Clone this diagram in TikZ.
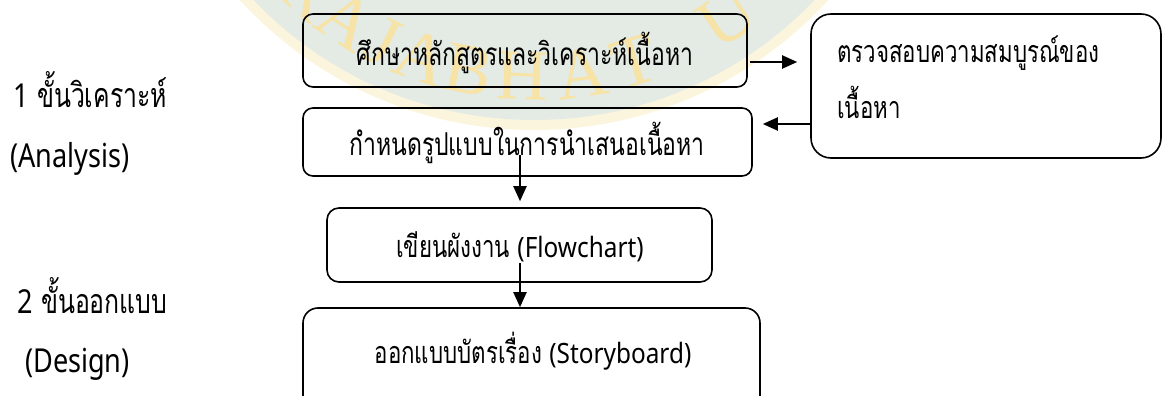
\documentclass[tikz,border=0pt]{standalone}
\usepackage{fontspec}
\setmainfont{Loma}[Script=Thai, FakeStretch=0.73]
\newfontfamily\lat{Noto Sans}[FakeStretch=0.87]
\newfontfamily\latL{Noto Sans}[FakeStretch=0.82]
\newfontfamily\wmfont{Liberation Serif}
\usetikzlibrary{arrows.meta}
\definecolor{wmgreen}{HTML}{E3EBE4}
\definecolor{wmring}{HTML}{FCF5DE}
\definecolor{wmletter}{HTML}{F7E3A6}
\newcommand{\bx}[1]{{\lat\fontsize{28}{30}\selectfont #1}}
\newcommand{\lx}[1]{{\latL\fontsize{33}{36}\selectfont #1}}
\tikzset{
  flowbox/.style={draw=black, line width=1.6pt, fill=none, inner sep=0pt},
  boxtext/.style={anchor=base, inner sep=0pt, font=\fontsize{30.5}{34}\selectfont},
  widetext/.style={boxtext, font=\fontsize{31.5}{34}\selectfont},
  lbl/.style={anchor=base west, inner sep=0pt, font=\fontsize{34}{36}\selectfont},
  arr/.style={line width=2pt, -{Triangle[length=15pt,width=13pt]}},
  wml/.style={anchor=base, inner sep=0pt, text=wmletter, font=\wmfont\fontsize{72}{72}\selectfont}
}
\begin{document}
\begin{tikzpicture}[x=1pt,y=1pt]
\useasboundingbox (0,0) rectangle (1163,-396);
\begin{scope}
\clip (0,0) rectangle (1163,-396);
\fill[wmring] (534,268) circle (398);
\fill[wmgreen] (534,268) circle (388);
\begin{scope}[shift={(534,268)}]
\foreach \ch/\a in {R/229,A/237,J/244,A/251,B/259,H/268,A/278,T/287,U/304}
  \node[wml, rotate=\a+90] at (\a:368) {\ch};
\end{scope}
% boxes
\node[flowbox, rounded corners=10pt, minimum width=444pt, minimum height=73pt] (A) at (525,-50.5) {};
\node[flowbox, rounded corners=10pt, minimum width=449pt, minimum height=68pt] (B) at (527.5,-142) {};
\node[flowbox, rounded corners=20pt, minimum width=350pt, minimum height=144pt] (C) at (986,-86) {};
\node[flowbox, rounded corners=12pt, minimum width=385pt, minimum height=74pt] (D) at (519.5,-245) {};
\node[flowbox, rounded corners=15pt, minimum width=457pt, minimum height=112pt] (E) at (531.5,-364) {};
% box texts
\node[widetext] (At) at (525,-66) {ศึกษาหลักสูตรและวิเคราะห์เนื้อหา};
\node[widetext] (Bt) at (527,-155) {กำหนดรูปแบบในการนำเสนอเนื้อหา};
\node[boxtext, anchor=base west] (Ct1) at (837,-63) {ตรวจสอบความสมบูรณ์ของ};
\node[boxtext, anchor=base west] (Ct2) at (837,-118) {เนื้อหา};
\node[boxtext] (Dt) at (520,-257) {เขียนผังงาน \bx{(Flowchart)}};
\node[boxtext] (Et) at (533,-363) {ออกแบบบัตรเรื่อง \bx{(Storyboard)}};
% labels
\node[lbl] (L1) at (13,-107) {\lx{1} ขั้นวิเคราะห์};
\node[lbl] (L2) at (10,-167) {\lx{(Analysis)}};
\node[lbl] (L3) at (17,-313) {\lx{2} ขั้นออกแบบ};
\node[lbl] (L4) at (25,-372) {\lx{(Design)}};
% connectors
\coordinate (b1) at (520,-155);
\coordinate (d1) at (520,-263);
\draw[arr, shorten <=2pt, shorten >=13pt] ([yshift=-11.5pt]A.east) -- ([yshift=-11.5pt]A.east -| C.west);
\draw[arr, shorten >=10pt] ([yshift=-38pt]C.west) -- ([yshift=-38pt]C.west -| B.east);
\draw[arr, shorten >=6pt] (b1) -- (b1 |- D.north);
\draw[arr, shorten >=0pt] (d1) -- (d1 |- E.north);
\end{scope}
\end{tikzpicture}
\end{document}
